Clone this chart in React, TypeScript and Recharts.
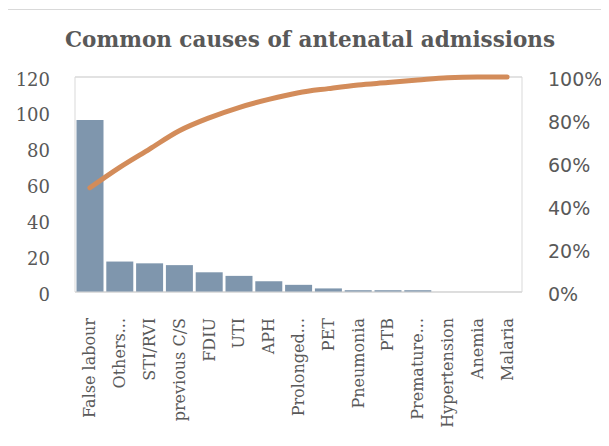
import React from 'react';
import { ComposedChart, Bar, Line, XAxis, YAxis, CartesianGrid } from 'recharts';

const categories = [
  'False labour', 'Others...', 'STI/RVI', 'previous C/S', 'FDIU', 'UTI', 'APH',
  'Prolonged...', 'PET', 'Pneumonia', 'PTB', 'Premature...', 'Hypertension', 'Anemia', 'Malaria',
];
const admissions = [96, 17, 16, 15, 11, 9, 6, 4, 2, 1, 1, 1, 0, 0, 0];
const cumulativeShare = [
  0.485, 0.58, 0.665, 0.75, 0.81, 0.858, 0.896, 0.927, 0.946, 0.963, 0.974, 0.986, 0.997, 1.0, 1.0,
];
const countTicks = [0, 20, 40, 60, 80, 100, 120];
const shareTicks = [0, 0.2, 0.4, 0.6, 0.8, 1];

const data = categories.map((name, i) => ({
  name,
  count: admissions[i],
  share: cumulativeShare[i],
}));

const GREY = '#595959';
const GRID = '#d9d9d9';

const CategoryTick = (props: any) => {
  const { x, y, payload } = props;
  return (
    <text
      transform={`translate(${x},${y + 18}) rotate(-90)`}
      textAnchor="end"
      dominantBaseline="central"
      fill={GREY}
      fontFamily="DejaVu Serif"
      fontSize={16}
    >
      {payload.value}
    </text>
  );
};

const CountTick = (props: any) => {
  const { x, y, payload } = props;
  return (
    <text x={x - 17} y={y + 2} textAnchor="end" dominantBaseline="central" fill={GREY}
      fontFamily="DejaVu Serif" fontSize={18}>
      {payload.value}
    </text>
  );
};

const ShareTick = (props: any) => {
  const { x, y, payload } = props;
  return (
    <text x={x + 18} y={y + 2} textAnchor="start" dominantBaseline="central" fill={GREY}
      fontFamily="DejaVu Sans" fontSize={19}>
      {`${Math.round(payload.value * 100)}%`}
    </text>
  );
};

export default function App() {
  return (
    <div style={{ position: 'relative', width: 609, height: 446, margin: -8, overflow: 'hidden', background: '#fff' }}>
      {/* caption line above the chart frame, only its descender shows */}
      <div style={{
        position: 'absolute', left: 7, top: -17, fontFamily: 'Liberation Sans', fontWeight: 'bold',
        fontSize: 22, color: '#c55a11', lineHeight: '22px', whiteSpace: 'nowrap',
      }}>
        Figure
      </div>
      <div style={{ position: 'absolute', left: 4, top: 9, width: 700, height: 600, border: `1px solid ${GRID}` }} />
      <div style={{
        position: 'absolute', left: 0, width: 620, top: 26, textAlign: 'center',
        fontFamily: 'DejaVu Serif', fontWeight: 'bold', fontSize: 21.5, color: GREY, lineHeight: '28px',
      }}>
        Common causes of antenatal admissions
      </div>
      <div style={{ position: 'absolute', left: 0, top: 0 }}>
        <ComposedChart
          width={609}
          height={446}
          data={data}
          margin={{ top: 77, right: 0, bottom: 0, left: 0 }}
          barCategoryGap={1.5}
        >
          <CartesianGrid vertical={false} stroke={GRID} strokeWidth={1.3} />
          <XAxis
            dataKey="name"
            interval={0}
            height={154}
            stroke={GRID}
            tickLine={false}
            tick={<CategoryTick />}
          />
          <YAxis
            yAxisId="left"
            width={75}
            domain={[0, 120]}
            ticks={countTicks}
            stroke={GRID}
            tickLine={false}
            tick={<CountTick />}
          />
          <YAxis
            yAxisId="right"
            orientation="right"
            width={87}
            domain={[0, 1]}
            ticks={shareTicks}
            stroke={GRID}
            tickLine={false}
            tick={<ShareTick />}
          />
          <Bar yAxisId="left" dataKey="count" fill="#7f96ad" isAnimationActive={false} />
          <Line
            yAxisId="right"
            dataKey="share"
            type="monotone"
            stroke="#d38c5a"
            strokeWidth={5}
            strokeLinecap="round"
            dot={false}
            isAnimationActive={false}
          />
        </ComposedChart>
      </div>
    </div>
  );
}
